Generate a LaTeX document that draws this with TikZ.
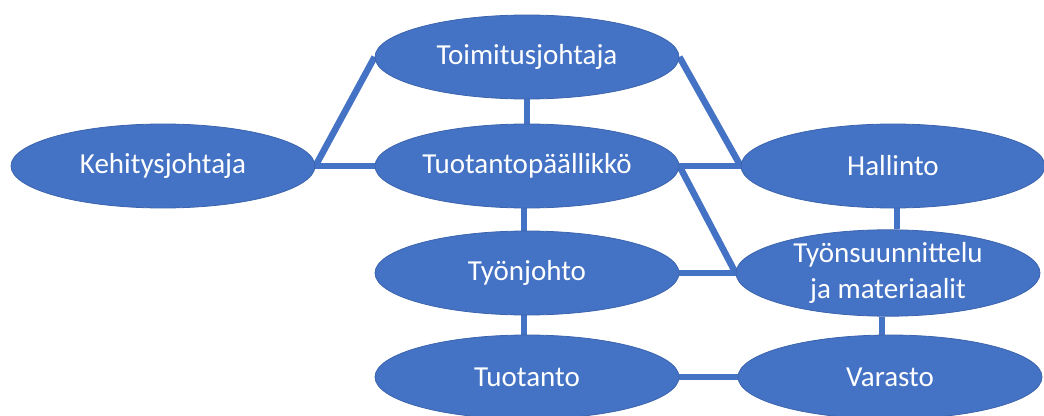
\documentclass[tikz,border=0pt]{standalone}
\usepackage{fontspec}
\setmainfont{Carlito}
\usetikzlibrary{shapes.geometric,backgrounds}
\definecolor{officeblue}{HTML}{4472C4}
\definecolor{officeedge}{HTML}{3C64AE}
\tikzset{role/.style = {draw=officeedge, line width=0.8pt, fill=officeblue, ellipse, inner sep=0pt,
                        minimum width=304pt, minimum height=84pt, text=white, align=center,
                        font=\fontsize{29}{36}\selectfont},
         link/.style = {officeblue, line width=6.5pt}}

\begin{document}
\begin{tikzpicture}[x=1pt,y=-1pt]
    \useasboundingbox(0,0)rectangle(1044,415);
    \node[role](keh)at(163,166){Kehitysjohtaja};
    \node[role](toim)at(527,57){Toimitusjohtaja};
    \node[role](tpa)at(527,166){Tuotantopäällikkö};
    \node[role](hal)at(893,166){Hallinto};
    \node[role](tjo)at(527,273){Työnjohto};
    \node[role](tsu)at(888,273){Työnsuunnittelu\\ja materiaalit};
    \node[role](tuo)at(527,377){Tuotanto};
    \node[role](var)at(890,377){Varasto};
    \begin{scope}[on background layer]
        \draw[link](keh.east)--(toim.west);
        \draw[link](keh.east)--(tpa.west);
        \draw[link](toim.south)--(tpa.north);
        \draw[link](toim.east)--(hal.west);
        \draw[link](tpa.east)--(hal.west);
        \draw[link](tpa.east)--(tsu.west);
        \draw[link]([xshift=-3pt]tpa.south)--([xshift=-3pt]tjo.north);
        \draw[link](tjo.east)--(tsu.west);
        \draw[link]([xshift=-3pt]tjo.south)--([xshift=-3pt]tuo.north);
        \draw[link]([xshift=4pt]hal.south)--([xshift=4pt]hal.south|-tsu.north);
        \draw[link]([xshift=-6pt]tsu.south)--([xshift=-6pt]tsu.south|-var.north);
        \draw[link](tuo.east)--(var.west);
    \end{scope}
\end{tikzpicture}
\end{document}
